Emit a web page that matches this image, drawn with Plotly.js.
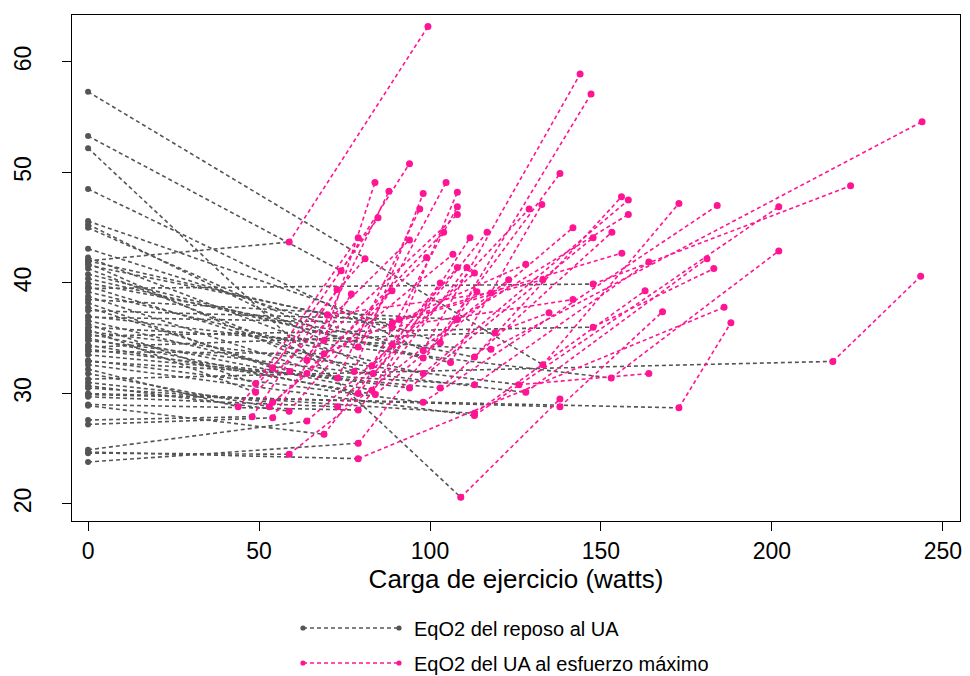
<!DOCTYPE html>
<html>
<head>
<meta charset="utf-8">
<script src="https://cdn.plot.ly/plotly-3.0.1.min.js"></script>
<style>
html,body{margin:0;padding:0;background:#fff;}
#chart{width:970px;height:676px;}
</style>
</head>
<body>
<div id="chart"></div>
<script>
// EqO2 at rest (load 0 W)
const restY = [42.0,52.2,31.3,29.9,57.3,53.3,48.5,45.6,45.3,45.0,43.1,42.3,41.8,41.3,40.8,40.4,40.0,39.7,39.2,38.8,38.2,37.8,36.6,36.3,35.8,35.4,35.0,34.4,34.0,33.5,33.0,32.6,32.2,31.8,31.0,30.7,29.7,29.0,27.6,27.2,24.9,28.9,23.8,24.6,24.7,39.5,37.0,35.2,34.8,32.9,30.5,30.0,36.0,38.5,37.5,33.8,36.9,42.0,41.6,35.6,34.2];
// Load (W) and EqO2 at the anaerobic threshold (UA)
const uaX = [58.8,109.0,217.8,172.8,133.0,74.0,98.0,103.0,69.0,79.0,89.0,83.0,64.0,77.8,98.0,106.0,113.0,83.4,98.0,73.0,54.0,59.0,64.0,49.0,49.0,83.0,79.0,84.0,94.0,103.0,98.0,113.0,43.9,53.0,54.0,58.8,73.0,79.0,48.0,54.0,64.0,69.0,79.0,58.8,79.0,147.7,153.0,147.7,128.0,113.0,113.0,138.0,117.8,108.0,91.0,69.0,89.0,70.0,88.9,126.0,119.0];
const uaY = [43.7,20.6,32.9,28.7,32.6,41.1,33.9,34.6,34.8,34.2,34.4,32.5,33.0,32.0,33.2,32.8,33.3,31.8,31.8,31.4,32.3,32.0,31.8,30.9,30.1,30.3,30.0,29.9,30.5,30.5,29.2,28.0,28.8,28.8,29.2,28.4,28.8,28.5,27.9,27.8,27.5,26.3,25.5,24.5,24.1,39.9,31.4,36.0,30.1,30.8,28.2,28.8,34.0,36.7,36.7,33.6,36.4,37.1,36.0,30.8,35.5];
// Load (W) and EqO2 at maximal effort
const maxX = [99.4,138.0,243.5,188.0,172.8,94.0,143.9,147.1,83.9,104.7,108.0,108.0,88.0,98.0,138.0,132.7,156.0,129.0,158.0,97.0,84.8,108.0,104.0,79.0,94.0,111.7,116.7,141.8,147.7,153.2,184.0,202.0,81.0,99.0,106.7,88.9,108.0,110.8,72.8,77.0,113.0,103.0,113.7,123.0,186.0,223.0,202.0,183.0,181.0,164.0,162.9,168.0,243.9,158.0,156.1,128.0,133.0,117.8,141.8,164.0,134.8];
const maxY = [63.2,29.5,40.6,36.4,47.2,50.8,58.9,57.1,49.1,49.1,48.2,46.9,48.3,48.1,49.9,47.1,47.8,46.7,47.5,46.7,45.9,46.2,44.6,44.1,43.9,44.1,44.6,45.0,44.1,44.6,47.0,46.9,42.2,42.3,42.6,39.3,41.4,41.4,39.4,39.0,40.9,40.0,39.2,40.3,37.8,48.8,42.9,41.3,42.2,41.9,39.3,37.4,54.6,46.2,42.7,41.7,40.3,39.1,38.5,31.8,37.3];

const xTicks = [0,50,100,150,200,250];
const yTicks = [20,30,40,50,60];
const legendLabels = ["EqO2 del reposo al UA","EqO2 del UA al esfuerzo máximo"];
const xTitle = "Carga de ejercicio (watts)";

const GRAY = "#555555", PINK = "#FF1493";

// build segmented traces (null breaks between subjects)
const gx=[], gy=[], px=[], py=[];
for (let i=0;i<restY.length;i++){
  gx.push(0, uaX[i], null); gy.push(restY[i], uaY[i], null);
  px.push(uaX[i], maxX[i], null); py.push(uaY[i], maxY[i], null);
}

const traces = [
  {x:gx, y:gy, type:"scatter", mode:"lines+markers", name:legendLabels[0], connectgaps:false,
   line:{color:GRAY, width:1.6, dash:"4px,3px"}, marker:{color:GRAY, size:6}, showlegend:false, cliponaxis:false},
  {x:px, y:py, type:"scatter", mode:"lines+markers", name:legendLabels[1], connectgaps:false,
   line:{color:PINK, width:1.6, dash:"4px,3px"}, marker:{color:PINK, size:7}, showlegend:false, cliponaxis:false}
];

// custom legend (R-style: dotted line with a point at each end), placed below the plot
const ML=72, MT=15, PW=888, PH=506;
const fx = v => (v-ML)/PW, fy = v => (MT+PH-v)/PH;
const legRows = [{y:628, c:GRAY, t:legendLabels[0]}, {y:663, c:PINK, t:legendLabels[1]}];
const shapes = [], annotations = [];
legRows.forEach(r=>{
  shapes.push({type:"line", xref:"paper", yref:"paper", x0:fx(303), x1:fx(399), y0:fy(r.y), y1:fy(r.y),
    line:{color:r.c, width:1.6, dash:"4px,3px"}});
  [303,399].forEach(cx=>{
    shapes.push({type:"circle", xref:"paper", yref:"paper", x0:fx(cx-2.6), x1:fx(cx+2.6), y0:fy(r.y+2.6), y1:fy(r.y-2.6),
      fillcolor:r.c, line:{color:r.c, width:0}});
  });
  annotations.push({xref:"paper", yref:"paper", x:fx(412), y:fy(r.y+1), xanchor:"left", yanchor:"middle",
    text:r.t, showarrow:false, font:{family:"Liberation Sans, Arial, sans-serif", size:20, color:"#000"}});
});

const layout = {
  width:970, height:676,
  margin:{l:ML, r:970-ML-PW, t:MT, b:676-MT-PH},
  paper_bgcolor:"#fff", plot_bgcolor:"#fff",
  font:{family:"Liberation Sans, Arial, sans-serif", color:"#000", size:23},
  showlegend:false,
  xaxis:{range:[-4.7,255], tickvals:xTicks, ticktext:xTicks.map(String), ticks:"outside", ticklen:9, tickwidth:1, tickcolor:"#000",
    showgrid:false, zeroline:false, showline:true, mirror:true, linecolor:"#000", linewidth:1.2,
    tickfont:{size:23}, title:{text:xTitle, font:{size:26}, standoff:5}},
  yaxis:{range:[18.46,64.25], tickvals:yTicks, ticktext:yTicks.map(String), ticks:"outside", ticklen:9, tickwidth:1, tickcolor:"#000",
    tickangle:-90, showgrid:false, zeroline:false, showline:true, mirror:true, linecolor:"#000", linewidth:1.2,
    tickfont:{size:23}, ticklabelstandoff:22},
  shapes:shapes, annotations:annotations
};

Plotly.newPlot("chart", traces, layout, {displayModeBar:false, staticPlot:true});
</script>
</body>
</html>
